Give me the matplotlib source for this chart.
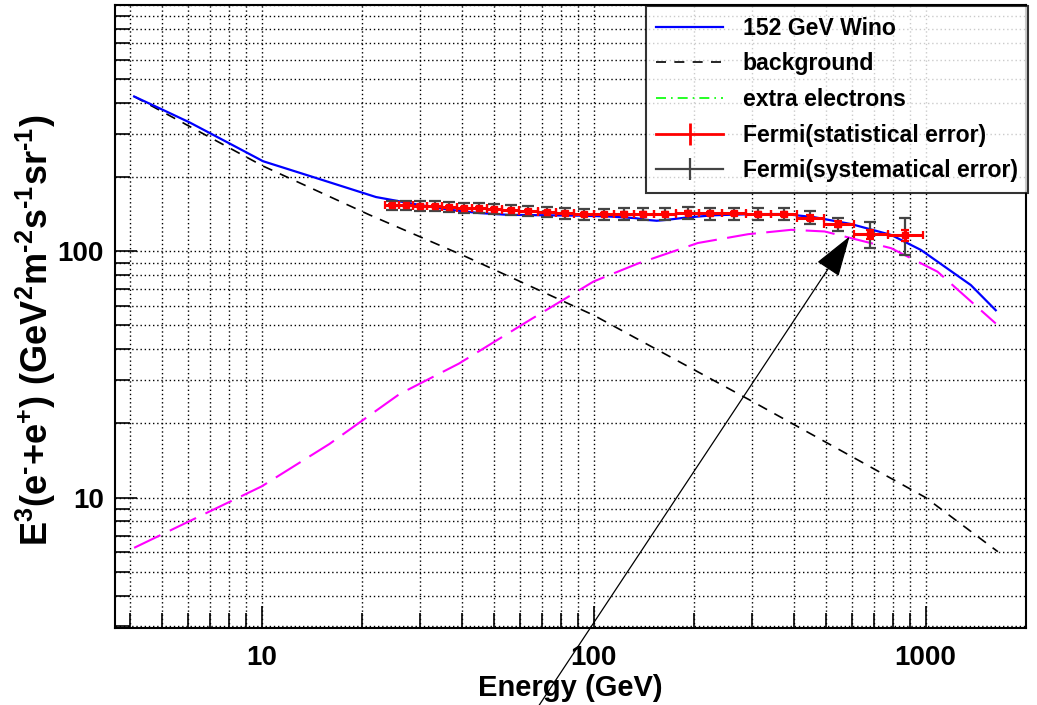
import matplotlib
matplotlib.use('Agg')
import matplotlib.pyplot as plt
from matplotlib.lines import Line2D
from matplotlib.ticker import FixedLocator, NullFormatter
import numpy as np

plt.rcParams['font.family'] = ['Liberation Sans', 'DejaVu Sans']
plt.rcParams['font.weight'] = 'bold'
plt.rcParams['mathtext.fontset'] = 'custom'
plt.rcParams['mathtext.rm'] = 'Liberation Sans:bold'
plt.rcParams['mathtext.it'] = 'Liberation Sans:bold'
plt.rcParams['mathtext.bf'] = 'Liberation Sans:bold'

# 152 GeV Wino total spectrum
wino_e = [4.13, 5.0, 6.08, 8.0, 10.1, 15.0, 22.1, 30.0, 36.7, 45.0, 55.0, 70.0, 90.0,
          110.0, 133.4, 145.0, 154.9, 165.0, 190.0, 230.0, 300.0, 376.5, 463.0, 597.0,
          787.0, 968.0, 1368.0, 1626.0]
wino_y = [425, 377, 333, 274, 232, 196, 166, 154, 147.5, 143, 140.6, 140, 139.5,
          138.5, 136.3, 134, 133, 134, 137, 140, 141.5, 141.6, 137.4, 128.9,
          116.5, 101.2, 72.9, 57.6]

# background
bg_e = [4.13, 10.1, 21.1, 41.2, 100.0, 300.0, 1000.0, 1650.0]
bg_y = [425, 221.7, 140.6, 95.1, 55.0, 24.6, 10.0, 6.03]

# extra electrons (magenta)
ex_e = [4.13, 10.0, 16.0, 26.0, 39.3, 63.8, 100.0, 136.4, 206.0, 292.0, 394.0,
        496.5, 597.0, 787.0, 1086.0, 1626.0]
ex_y = [6.25, 11.1, 16.5, 26.3, 35.0, 52.3, 75.4, 89.3, 108.0, 117.3, 122.2,
        120.3, 113.0, 102.9, 82.6, 50.9]

# Fermi data
fermi_e = [24.66, 27.2, 29.97, 33.2, 36.7, 40.7, 45.2, 50.1, 56.3, 63.6, 72.3, 81.8,
           93.3, 107.2, 123.1, 141.3, 164.2, 191.9, 224.1, 264.2, 313.0, 373.9,
           448.4, 544.1, 678.8, 868.9]
fermi_edges = [23.6, 25.9, 28.55, 31.55, 34.9, 38.65, 42.9, 47.6, 53.1, 59.8, 67.8,
               76.9, 87.4, 100.0, 114.9, 131.9, 152.3, 177.5, 207.4, 243.3, 287.6,
               342.1, 409.5, 493.9, 607.7, 768.0, 980.0]
fermi_y = [153.7, 153.5, 153.0, 152.5, 151.0, 150.5, 149.5, 148.4, 147.0, 145.5,
           144.3, 142.5, 141.0, 141.5, 142.0, 142.0, 142.0, 143.5, 142.5, 142.5,
           142.0, 141.5, 137.0, 129.0, 117.5, 116.5]
stat_err = [1.2, 1.2, 1.2, 1.2, 1.2, 1.2, 1.3, 1.3, 1.4, 1.4, 1.5, 1.5, 1.6, 1.7,
            1.8, 1.9, 2.0, 2.1, 2.2, 2.4, 2.6, 2.8, 3.0, 3.5, 5.0, 6.0]
sys_err = [7.0, 7.0, 7.0, 7.0, 7.0, 7.0, 7.0, 7.0, 7.0, 7.0, 7.0, 7.0, 7.0, 7.5,
           7.5, 8.0, 8.0, 8.0, 8.0, 8.0, 8.0, 8.0, 8.5, 8.0, 14.0, 20.0]

fig = plt.figure(figsize=(10.37, 7.05), dpi=100)
ax = fig.add_axes([0.111, 0.109, 0.878, 0.884])
ax.set_xscale('log')
ax.set_yscale('log')
ax.set_xlim(3.62, 2000)
ax.set_ylim(2.95, 1000)

ax.plot(ex_e, ex_y, color='#ff00ff', lw=1.5, dashes=(14, 5))
ax.plot(bg_e, bg_y, color='black', lw=1.2, dashes=(6, 5))
ax.plot(wino_e, wino_y, color='#0000ff', lw=1.6)

fe = np.array(fermi_e)
edges = np.array(fermi_edges)
xerr = [fe - edges[:-1], edges[1:] - fe]
ax.errorbar(fermi_e, fermi_y, yerr=sys_err, fmt='none', ecolor='#444444', elinewidth=1.6,
            capsize=4, capthick=1.6, zorder=4)
ax.errorbar(fermi_e, fermi_y, xerr=xerr, yerr=stat_err, fmt='s', color='red', ms=4,
            ecolor='red', elinewidth=2.2, capsize=3, capthick=1.6, zorder=5)

# arrow
ax.annotate('', xy=(590, 114.8), xytext=(68.4, 1.43), xycoords='data',
            arrowprops=dict(arrowstyle='-|>,head_length=1.3,head_width=0.42',
                            color='black', lw=0.9, mutation_scale=20,
                            shrinkA=0, shrinkB=0),
            annotation_clip=False)

# ticks and grid
xmajor = [10, 100, 1000]
xminor = [4, 5, 6, 7, 8, 9, 20, 30, 40, 50, 60, 70, 80, 90,
          200, 300, 400, 500, 600, 700, 800, 900, 2000]
ymajor = [10, 100, 1000]
yminor = [3, 4, 5, 6, 7, 8, 9, 20, 30, 40, 50, 60, 70, 80, 90,
          200, 300, 400, 500, 600, 700, 800, 900]
ax.xaxis.set_major_locator(FixedLocator(xmajor))
ax.xaxis.set_minor_locator(FixedLocator(xminor))
ax.yaxis.set_major_locator(FixedLocator(ymajor))
ax.yaxis.set_minor_locator(FixedLocator(yminor))
ax.set_xticklabels(['10', '100', '1000'])
ax.set_yticklabels(['10', '100', ''])
ax.xaxis.set_minor_formatter(NullFormatter())
ax.yaxis.set_minor_formatter(NullFormatter())
ax.tick_params(which='both', direction='in', top=False, right=False, labelsize=20)
ax.tick_params(which='major', length=16, width=1.2)
ax.tick_params(which='minor', length=11, width=1.2)
ax.tick_params(axis='x', pad=12)
ax.tick_params(axis='y', pad=8)
ax.grid(True, which='both', color='black', lw=1.0, linestyle=(0, (1, 2)))
for s in ax.spines.values():
    s.set_linewidth(1.5)

ax.set_xlabel('Energy (GeV)', fontsize=21, fontweight='bold', labelpad=2)
ax.set_ylabel(r'$\mathrm{E^{3}(e^{\text{-}}\text{+}e^{+})\ (GeV^{2}m^{\text{-}2}s^{\text{-}1}sr^{\text{-}1})}$',
              fontsize=26)
ax.yaxis.set_label_coords(-0.063, 0.478)

handles = [
    Line2D([], [], color='#0000ff', lw=1.6),
    Line2D([], [], color='black', lw=1.2, dashes=(6, 5)),
    Line2D([], [], color='#00ff00', lw=1.2, dashes=(6, 3, 1, 3)),
    Line2D([], [], color='red', lw=2, marker='|', ms=16, mew=2),
    Line2D([], [], color='#444444', lw=1.6, marker='|', ms=16, mew=1.6),
]
labels = ['152 GeV Wino', 'background', 'extra electrons',
          'Fermi(statistical error)', 'Fermi(systematical error)']
leg = fig.legend(handles, labels, loc='upper left', bbox_to_anchor=(0.623, 0.991),
                 fontsize=16.6, frameon=True, fancybox=False, handlelength=2.9,
                 labelspacing=0.55, borderpad=0.45, handletextpad=0.85, borderaxespad=0)
leg.get_frame().set_edgecolor('black')
leg.get_frame().set_linewidth(1.5)
for t in leg.get_texts():
    t.set_fontweight('bold')

fig.savefig('out.png', dpi=100)
